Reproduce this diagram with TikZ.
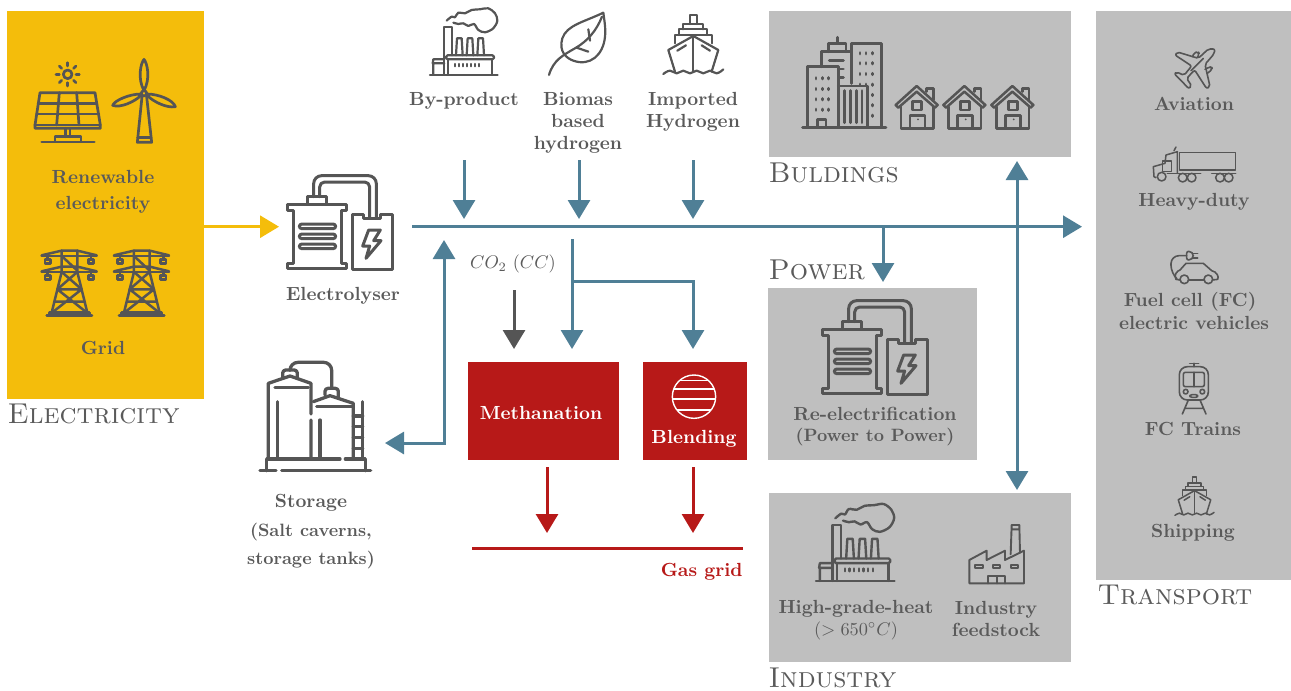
\documentclass[tikz,border=0pt]{standalone}
\usetikzlibrary{arrows.meta}
\definecolor{yel}{HTML}{F4BD0B}
\definecolor{gry}{HTML}{BFBFBF}
\definecolor{redc}{HTML}{B71918}
\definecolor{blu}{HTML}{4F7F96}
\definecolor{iconc}{HTML}{555555}
\definecolor{txtc}{HTML}{5A5A5A}
\tikzset{
 tx/.style={font=\fontsize{10}{11.6}\selectfont\bfseries,text=txtc,scale=1.9,align=center,inner sep=0pt},
 txs/.style={tx,scale=.94},
 thin tx/.style={font=\fontsize{10}{11.6}\selectfont,text=txtc,scale=1.83,align=center,inner sep=0pt},
 head/.style={font=\fontsize{10}{12}\selectfont\scshape,text=txtc,scale=2.87,anchor=base west,inner sep=0pt},
 panel/.style={rectangle,inner sep=0pt,anchor=north west,fill=#1},
 conn/.style={line width=3pt,draw=#1,-{Triangle[width=22pt,length=19pt,fill=#1]}},
 conn2/.style={line width=3pt,draw=#1,{Triangle[width=22pt,length=19pt,fill=#1]}-{Triangle[width=22pt,length=19pt,fill=#1]}},
 icn/.style={color=iconc,line cap=round,line join=round,scale=.33333,line width=#1},
 icn/.default=2.6pt,
 electro/.pic={\begin{scope}[shift={(-860,-525)}]
  \draw (862,612)--(1038,612)--(1038,630)--(1022,630)--(1022,790)--(1038,790)--(1038,806)--(862,806)--(862,790)--(878,790)--(878,630)--(862,630)--cycle;
  \draw (922,612)--(922,590)--(978,590)--(978,612);
  \draw[rounded corners=8pt] (940,590)--(940,527)--(1128,527)--(1128,655);
  \draw[rounded corners=5pt] (958,590)--(958,546)--(1108,546)--(1108,655);
  \draw (1055,642)--(1055,808)--(1175,808)--(1175,642)--(1140,642)--(1140,655)--(1088,655)--(1088,642)--cycle;
  \foreach \y in {672,702,732}\draw[rounded corners=2.5pt] (897,\y) rectangle (1006,\y+14);
  \draw (1105,690)--(1140,690)--(1120,722)--(1142,722)--(1097,775)--(1108,738)--(1087,738)--cycle;
 \end{scope}},
 factoryicon/.pic={\begin{scope}[shift={(-90,-25)}]
  \draw (90,224)--(293,224);
  \draw[rounded corners=1.5pt] (138,166) rectangle (282,178);
  \draw (145,178)--(145,224) (277,178)--(277,224);
  \draw (133,224)--(133,80)--(155,80)--(155,166);
  \draw (133,178)--(100,178)--(98,190)--(133,190) (100,190)--(100,224);
  \foreach \x in {168,200,232}\draw (\x,166)--(\x+3,115)--(\x+17,115)--(\x+20,166);
  \foreach \x in {165,177,...,245}\draw (\x,192)--(\x,199);
  \draw plot[smooth,tension=.55] coordinates {(140,62)(155,50)(165,52)(175,38)(195,40)(215,30)(240,28)(265,25)(285,40)(292,62)(280,85)(255,97)(235,90)(222,72)(205,78)(190,70)(175,72)(160,68)};
 \end{scope}},
 shipicon/.pic={\begin{scope}[shift={(-790,-45)}]
  \draw (825,215)--(805,150)--(880,108)--(955,150)--(935,215);
  \draw (880,108)--(880,212);
  \draw (825,130)--(825,105)--(935,105)--(935,130);
  \draw (838,105)--(838,88)--(922,88)--(922,105);
  \draw (850,88)--(850,72)--(910,72)--(910,88);
  \draw (870,72)--(870,45)--(890,45)--(890,72);
  \draw (832,152)--(858,136) (905,136)--(930,152);
  \draw plot[smooth,tension=.8] coordinates {(790,222)(810,212)(830,220)(850,212)(870,220)(890,212)(910,220)(930,212)(950,220)(970,208)};
 \end{scope}},
 pylon/.pic={\begin{scope}[shift={(-123,-748)}]
  \foreach \y in {0,48}{
   \draw (125,768+\y)--(290,768+\y);
   \draw (125,766+\y)--(185,752+\y)--(232,752+\y)--(290,766+\y);
   \foreach \x in {143,273}{\draw (\x,768+\y)--(\x,778+\y);\draw (\x-8,778+\y) rectangle (\x+8,791+\y);}
  }
  \draw (185,752)--(185,816)--(155,938) (232,752)--(232,816)--(262,938);
  \draw (185,768)--(232,812) (185,816)--(245,868)--(160,935) (232,816)--(172,868)--(257,935) (172,868)--(245,868) (165,905)--(252,905);
  \draw (148,938)--(268,938) (140,947)--(276,947) (148,938)--(148,947) (268,938)--(268,947);
 \end{scope}},
 house/.pic={\begin{scope}[shift={(-405,-255)}]
  \draw (407,315)--(470,258)--(533,315)--(525,323)--(470,275)--(415,323)--cycle;
  \draw (423,320)--(423,385)--(520,385)--(520,320);
  \draw (500,275)--(500,265)--(520,265)--(520,300);
  \draw (458,305) rectangle (485,330);
  \draw (450,385)--(450,347)--(495,347)--(495,385);
  \fill (474,358) circle (3);
 \end{scope}},
}
\begin{document}
\begin{tikzpicture}[x=1pt,y=-1pt]
\useasboundingbox (0,0) rectangle (1291,691);
% panels
\node[panel=yel,minimum width=197pt,minimum height=388pt] (elecbox) at (7,11) {};
\node[panel=gry,minimum width=302pt,minimum height=146pt] (bldbox) at (769,11) {};
\node[panel=gry,minimum width=209pt,minimum height=172pt] (powbox) at (768,288) {};
\node[panel=gry,minimum width=302pt,minimum height=169pt] (indbox) at (769,493) {};
\node[panel=gry,minimum width=195pt,minimum height=569pt] (trabox) at (1096,11) {};
\node[panel=redc,minimum width=151pt,minimum height=98pt] (methbox) at (468,362) {};
\node[panel=redc,minimum width=104pt,minimum height=98pt] (blendbox) at (643,362) {};
% headings
\node[head] (hel) at (7,423) {Electricity};
\node[head] (hbu) at (768,182) {Buldings};
\node[head] (hpo) at (768,279) {Power};
\node[head] (hin) at (768,687) {Industry};
\node[head] (htr) at (1097,604) {Transport};
% labels
\node[tx] (lren) at (103,192) {Renewable\\[2.2pt]electricity};
\node[tx] (lgrid) at (103,348) {Grid};
\node[tx] (lely) at (343,295.5) {Electrolyser};
\node[tx] (lbyp) at (464,100.5) {By-product};
\node[tx] (lbio) at (578,122.5) {Biomas\\based\\hydrogen};
\node[tx] (limp) at (693,111.5) {Imported\\Hydrogen};
\node[thin tx] (lco) at (513,264) {$CO_2\ (CC)$};
\node[tx,text=white] (lmeth) at (541,413) {Methanation};
\node[tx,text=white] (lblend) at (694,439) {Blending};
\node[tx,text=redc,anchor=east] (lgas) at (743,571.5) {Gas grid};
\node[tx] (lsto) at (311,503) {Storage};
\node[txs] (lsto2) at (311,532) {(Salt caverns,};
\node[txs] (lsto3) at (311,560) {storage tanks)};
\node[tx] (lavi) at (1194,104) {Aviation};
\node[tx] (lhea) at (1194,202) {Heavy-duty};
\node[tx] (lfc) at (1190,302) {Fuel cell (FC)};
\node[tx] (lfc2) at (1194,323) {electric vehicles};
\node[tx] (ltra) at (1193,429) {FC Trains};
\node[tx] (lshi) at (1193,533) {Shipping};
\node[tx] (lre) at (875,414) {Re-electrification};
\node[txs] (lre2) at (875,437) {(Power to Power)};
\node[tx] (lhig) at (856,609) {High-grade-heat};
\node[thin tx] (lhig2) at (856,631) {($>650^{\circ}C$)};
\node[tx] (lfeed) at (996,619) {Industry\\feedstock};
% connector ends
\coordinate (eltin) at (279,226.7);
\coordinate (mains) at (412,226.7);
\coordinate (maine) at (1082,226.7);
\coordinate (bys) at (464,160); \coordinate (bye) at (464,219);
\coordinate (bis) at (579,160); \coordinate (bie) at (579,219);
\coordinate (ims) at (693,160); \coordinate (ime) at (693,219);
\coordinate (brs) at (572,239); \coordinate (bre) at (572,349);
\coordinate (brk) at (572,281); \coordinate (ble) at (693,349);
\coordinate (cos) at (514,290); \coordinate (coe) at (514,349);
\coordinate (me1) at (547,467); \coordinate (me2) at (547,533);
\coordinate (bl1) at (693,467); \coordinate (bl2) at (693,533);
\coordinate (gas1) at (472,548); \coordinate (gas2) at (743,548);
\coordinate (pow1) at (883,226.7); \coordinate (pow2) at (883,282);
\coordinate (dbl1) at (1017,161); \coordinate (dbl2) at (1017,490);
\coordinate (st1) at (444,240); \coordinate (st2) at (385,443);
% connectors
\draw[conn=yel] (elecbox.east |- eltin) -- (eltin);
\draw[conn=blu] (mains) -- (maine);
\draw[conn=blu] (bys) -- (bye);
\draw[conn=blu] (bis) -- (bie);
\draw[conn=blu] (ims) -- (ime);
\draw[conn=blu] (brs) -- (bre);
\draw[conn=blu] (brk) -| (ble);
\draw[conn=iconc] (cos) -- (coe);
\draw[conn=redc] (me1) -- (me2);
\draw[conn=redc] (bl1) -- (bl2);
\draw[line width=3pt,draw=redc] (gas1) -- (gas2);
\draw[conn=blu] (pow1) -- (pow2);
\draw[conn2=blu] (dbl1) -- (dbl2);
\draw[conn2=blu] (st1) |- (st2);
% ---- icons ----
% sun + solar panel
\begin{scope}[icn=2.7pt]
 \draw (203,223) circle (13);
 \foreach \a in {0,45,...,315}\draw ({203+25*cos(\a)},{223+25*sin(\a)})--({203+35*cos(\a)},{223+35*sin(\a)});
 \draw (120,278)--(285,278)--(301,375)--(301,385)--(105,385)--(105,375)--cycle;
 \draw (105,375)--(301,375);
 \draw (115,310)--(290,310) (110,342)--(296,342);
 \draw (178,278)--(170,375) (230,278)--(237,375);
 \draw (196,385)--(196,410) (210,385)--(210,410);
 \draw (165,422)--(165,410)--(243,410)--(243,422);
 \draw (125,426)--(283,426);
\end{scope}
% wind turbine
\begin{scope}[icn=2.7pt]
 \draw (432,272) .. controls (412,235) and (422,190) .. (432,178) .. controls (442,190) and (452,235) .. (432,272);
 \draw (423,282) .. controls (390,282) and (345,300) .. (338,316) .. controls (360,325) and (405,305) .. (423,286);
 \draw (441,282) .. controls (475,282) and (520,300) .. (526,320) .. controls (500,325) and (460,305) .. (441,286);
 \draw (432,280) circle (8);
 \draw (426,290)--(412,427)--(455,427)--(440,290);
 \draw (413,412)--(453,412);
\end{scope}
\pic[icn=2.5pt] at (41,249.3) {pylon};
\pic[icn=2.5pt] at (113.3,249.3) {pylon};
\pic[icn=3pt] at (287,175) {electro};
\pic[icn=3pt] at (822,300) {electro};
\pic[icn=2.2pt] at (430,8.3) {factoryicon};
\pic[icn=2.4pt,scale=1.16] at (816,504) {factoryicon};
\pic[icn=2.2pt] at (663.3,15) {shipicon};
\pic[icn=1.5pt,scale=.65] at (1175,477) {shipicon};
% leaf
\begin{scope}[shift={(400,0)},icn=2.2pt]
 \draw (610,38) .. controls (555,65) and (500,75) .. (487,115) .. controls (475,155) and (500,175) .. (520,182) .. controls (570,200) and (610,165) .. (615,110) .. controls (618,85) and (612,55) .. (610,38);
 \draw (447,225) .. controls (460,180) and (490,165) .. (525,145) .. controls (565,122) and (590,90) .. (606,50);
 \draw (565,88)--(570,122) (530,143)--(565,155);
\end{scope}
% buildings
\begin{scope}[shift={(760,0)},icn=2.9pt]
 \draw (128,382)--(378,382);
 \draw (143,382)--(143,200)--(235,200)--(235,382);
 \draw (185,200)--(185,155)--(272,155);
 \draw (205,155)--(205,130)--(258,130)--(258,155) (232,130)--(232,112);
 \draw (275,250)--(275,130)--(365,130)--(365,382);
 \draw (235,258)--(322,258)--(322,382);
 \foreach \x in {254,272,290,306}\draw (\x,272)--(\x,368);
 \foreach \y in {235,267,298,329}\foreach \x in {168,187,206}\draw (\x,\y-2)--(\x,\y+2);
 \foreach \y in {160,190,222}\foreach \x in {300,318,337}\draw (\x,\y-2)--(\x,\y+2);
 \foreach \y in {254,285,316,347}\draw (337,\y-2)--(337,\y+2);
 \draw (300,252)--(300,254) (318,252)--(318,254);
 \draw (172,382)--(172,358)--(198,358)--(198,382);
 \draw (208,182)--(250,182) (238,207)--(250,207) (238,232)--(250,232);
\end{scope}
\pic[icn=2.5pt] at (895,85) {house};
\pic[icn=2.5pt] at (942.7,85) {house};
\pic[icn=2.5pt] at (990.7,85) {house};
% plane
\begin{scope}[shift={(1090,30)},icn=1.6pt]
 \draw[rounded corners=2pt] (375,57)--(372,72)--(345,103)--(360,170)--(350,176)--(314,120)--(290,145)--(305,168)--(296,176)--(272,150)--(253,132)--(260,126)--(282,136)--(305,108)--(255,75)--(262,66)--(325,85)--(355,57)--cycle;
 \draw[rounded corners=2pt] (308,80)--(312,68)--(325,65)--(328,72)--(322,82);
 \draw[rounded corners=2pt] (345,118)--(356,112)--(365,110)--(367,118)--(352,130);
 \draw (303,122)--(340,85);
\end{scope}
% truck
\begin{scope}[shift={(1090,30)},icn=1.5pt]
 \draw (268,367) rectangle (437,420);
 \draw (198,443)--(192,440)--(190,410)--(225,400)--(228,375)--(262,365)--(262,430);
 \draw (218,393)--(245,393)--(245,425)--(218,425)--cycle;
 \draw (252,362)--(258,351);
 \draw (215,440) circle (13);
 \draw (278,443) circle (13) (305,443) circle (13);
 \draw (390,443) circle (13) (416,443) circle (13);
 \draw (232,430)--(332,430) (365,430)--(437,430);
\end{scope}
% car
\begin{scope}[shift={(1090,30)},icn=1.6pt]
 \draw (283,748) circle (13) (355,748) circle (13);
 \draw (270,750)--(258,748) .. controls (250,735) and (262,722) .. (270,720) -- (288,700)--(340,700)--(365,722) .. controls (380,725) and (388,740) .. (383,748)--(368,750);
 \draw (296,750)--(342,750);
 \draw[rounded corners=2pt] (290,664)--(302,664)--(310,672)--(310,682)--(302,690)--(290,690)--cycle;
 \draw (310,670)--(323,670) (310,684)--(323,684);
 \draw[rounded corners=8pt] (290,677)--(243,677)--(243,730)--(256,742);
\end{scope}
% train
\begin{scope}[shift={(1090,340)},icn=1.6pt]
 \draw[rounded corners=8pt] (268,80) rectangle (355,180);
 \draw[rounded corners=2pt] (280,97) rectangle (343,140);
 \draw (312,97)--(312,140);
 \draw (287,155) circle (7) (337,155) circle (7);
 \draw[rounded corners=2pt] (300,164) rectangle (323,172);
 \draw (299,70)--(326,70) (312,70)--(312,80);
 \draw (295,180)--(277,222) (330,180)--(348,222) (285,205)--(340,205);
\end{scope}
% tanks
\begin{scope}[shift={(240,340)},icn=3.3pt]
 \draw (60,392)--(108,392) (125,392)--(392,392);
 \draw (80,392)--(80,357)--(300,357) (316,357)--(376,357)--(376,392);
 \draw (85,357)--(85,130)--(150,108)--(213,130)--(213,222) (213,240)--(213,357);
 \draw (105,143)--(205,143) (113,185)--(113,357);
 \draw[rounded corners=3pt] (128,110)--(128,90)--(172,90)--(172,115);
 \draw[rounded corners=8pt] (150,90)--(150,67)--(275,67)--(275,145);
 \draw (220,185)--(270,167)--(340,190)--(340,357);
 \draw (230,200)--(335,200) (240,240)--(240,357);
 \draw[rounded corners=3pt] (255,165)--(255,145)--(295,145)--(295,172);
 \draw (368,185)--(368,357);
 \foreach \y in {228,260,292,325}\draw (340,\y)--(368,\y);
\end{scope}
% factory (feedstock)
\begin{scope}[shift={(760,490)},icn=1.9pt]
 \draw (628,280)--(628,210)--(680,182)--(680,210)--(735,182)--(735,210)--(792,182)--(792,280)--cycle;
 \draw (752,193)--(755,105)--(778,105)--(780,188) (755,118)--(778,118);
 \foreach \x in {645,698,752}\draw (\x,225) rectangle (\x+23,235);
 \draw (685,280)--(685,258)--(735,258)--(735,280) (710,258)--(710,280);
\end{scope}
% blending globe
\begin{scope}[shift={(460,230)},icn=1.4pt,color=white]
 \draw (702,500) circle (65);
 \clip (702,500) circle (65);
 \foreach \y in {452,477,507,540}\draw (620,\y)--(780,\y);
\end{scope}
\end{tikzpicture}
\end{document}
